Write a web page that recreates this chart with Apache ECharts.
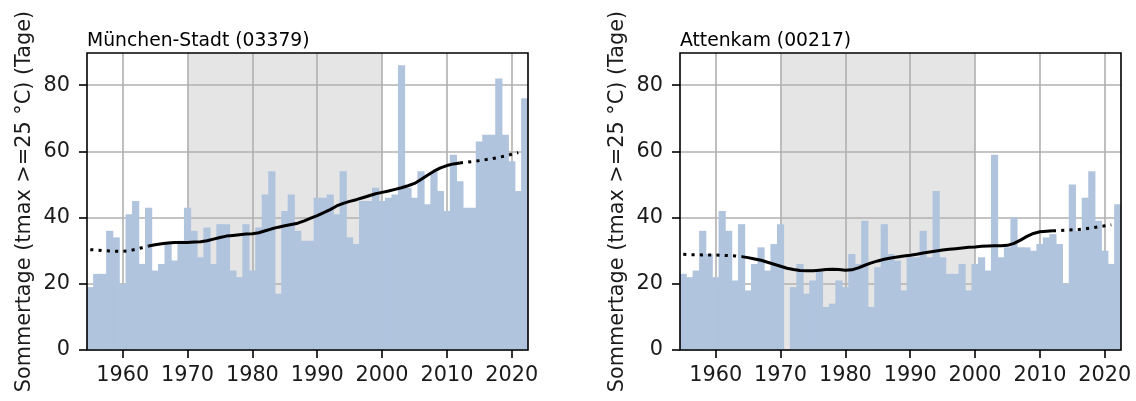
<!DOCTYPE html>
<html>
<head>
<meta charset="utf-8">
<script src="https://cdn.jsdelivr.net/npm/echarts@6.0.0/dist/echarts.min.js"></script>
<style>
    html, body { margin: 0; padding: 0; background: #fff; }
    #myChart { width: 1136px; height: 401px; }
</style>
</head>
<body>
<div id="myChart"></div>
<script>
// Jahre 1955 - 2022
var years = [1955,1956,1957,1958,1959,1960,1961,1962,1963,1964,1965,1966,1967,1968,1969,
    1970,1971,1972,1973,1974,1975,1976,1977,1978,1979,1980,1981,1982,1983,1984,1985,1986,
    1987,1988,1989,1990,1991,1992,1993,1994,1995,1996,1997,1998,1999,2000,2001,2002,2003,
    2004,2005,2006,2007,2008,2009,2010,2011,2012,2013,2014,2015,2016,2017,2018,2019,2020,
    2021,2022];

var xTicks = [1960, 1970, 1980, 1990, 2000, 2010, 2020];
var yTicks = [0, 20, 40, 60, 80];

// Sommertage München-Stadt (03379)
var muenchen = [19,23,23,36,34,20,41,45,26,43,24,26,32,27,33,
    43,36,28,37,26,38,38,24,22,38,24,37,47,54,17,42,47,
    36,33,33,46,46,47,41,54,34,32,45,45,49,45,46,47,86,
    49,46,54,44,54,48,42,59,51,43,43,63,65,65,82,65,57,
    48,76];

// Sommertage Attenkam (00217), 1971 fehlt
var attenkam = [23,22,24,36,29,22,42,36,21,38,18,26,31,24,32,
    38,null,19,26,17,21,24,13,14,21,19,29,26,39,13,25,38,
    29,27,18,28,28,36,28,48,28,23,23,26,18,26,28,24,59,
    28,31,40,31,31,30,32,34,35,32,20,50,36,46,54,39,30,
    26,44];

// geglaettete Kurve 1955 - 2021
var muenchenTrend = [30.3,30.2,30.0,29.9,29.8,29.8,30.0,30.4,30.9,31.4,31.8,32.1,32.3,32.5,32.5,
    32.5,32.6,32.7,33.0,33.5,34.0,34.4,34.6,34.8,35.0,35.1,35.4,36.0,36.6,37.1,37.5,37.9,
    38.3,39.0,39.8,40.6,41.5,42.4,43.5,44.3,44.9,45.4,46.0,46.6,47.2,47.6,48.0,48.5,49.0,
    49.6,50.3,51.5,52.8,54.0,55.0,55.7,56.2,56.5,56.7,56.9,57.2,57.5,57.8,58.2,58.6,59.1,
    59.6];

var attenkamTrend = [28.9,28.8,28.8,28.7,28.7,28.7,28.6,28.5,28.4,28.2,27.9,27.5,27.1,26.5,25.9,
    25.3,24.7,24.3,24.0,23.9,23.9,24.1,24.3,24.4,24.3,24.1,24.2,24.8,25.6,26.3,26.9,27.4,
    27.8,28.1,28.4,28.6,28.9,29.3,29.6,29.9,30.2,30.4,30.6,30.8,31.0,31.1,31.3,31.4,31.5,
    31.5,31.6,32.2,33.2,34.3,35.2,35.7,35.9,36.0,36.1,36.2,36.3,36.4,36.6,36.9,37.2,37.5,
    37.8];

// durchgezogen nur im Bereich mit vollem Fenster
var solidFrom = 1964, solidTo = 2012;
var refStart = 1970, refEnd = 2000;

var font = 'DejaVu Sans';
var grids = [], xAxes = [], yAxes = [], series = [], titles = [];

function addPanel(i, left, title, bars, trend) {
    titles.push({
        text: title, left: left, top: 32, padding: 0,
        textStyle: { fontSize: 18.75, fontWeight: 'normal', color: '#000', fontFamily: font }
    });
    grids.push({
        left: left, top: 53, width: 441, height: 297,
        show: true, z: 5, backgroundColor: 'transparent',
        borderColor: '#000', borderWidth: 1.6,
        outerBoundsMode: 'none'
    });
    xAxes.push({
        gridIndex: i, type: 'value', min: 1954.5, max: 2022.5, z: 2,
        axisLine: { show: false },
        axisTick: { show: true, length: 8, customValues: xTicks, lineStyle: { color: '#000', width: 1.6 } },
        axisLabel: {
            customValues: xTicks, margin: 15, fontSize: 20.8, color: '#1a1a1a', fontFamily: font,
            formatter: function (v) { return String(v); }
        },
        splitLine: { show: true, lineStyle: { color: '#b0b0b0', width: 1.6 } }
    });
    yAxes.push({
        gridIndex: i, type: 'value', min: 0, max: 89.7, z: 2,
        name: 'Sommertage (tmax >=25 °C) (Tage)',
        nameLocation: 'middle', nameRotate: 90, nameGap: 52,
        nameTextStyle: { fontSize: 20.8, color: '#1a1a1a', fontFamily: font },
        axisLine: { show: false },
        axisTick: { show: true, length: 8, customValues: yTicks, lineStyle: { color: '#000', width: 1.6 } },
        axisLabel: { customValues: yTicks, margin: 17, fontSize: 20.8, color: '#1a1a1a', fontFamily: font },
        splitLine: { show: true, lineStyle: { color: '#b0b0b0', width: 1.6 } }
    });

    var barData = years.map(function (y, k) { return [y, bars[k]]; });
    var solid = [], dotted = [];
    years.forEach(function (y, k) {
        if (k >= trend.length) return;
        var v = trend[k];
        if (y >= solidFrom && y <= solidTo) solid.push([y, v]);
        dotted.push([y, (y <= solidFrom || y >= solidTo) ? v : null]);
    });

    series.push({
        type: 'bar', xAxisIndex: i, yAxisIndex: i, z: 3,
        barWidth: 7.2, itemStyle: { color: '#b0c4de' },
        data: barData,
        markArea: {
            silent: true, z: 1,
            itemStyle: { color: '#e5e5e5' },
            data: [[{ xAxis: refStart }, { xAxis: refEnd }]]
        }
    });
    series.push({
        type: 'line', xAxisIndex: i, yAxisIndex: i, z: 4,
        symbol: 'none', data: solid,
        lineStyle: { color: '#000', width: 3 }
    });
    series.push({
        type: 'line', xAxisIndex: i, yAxisIndex: i, z: 4,
        symbol: 'none', data: dotted, connectNulls: false,
        lineStyle: { color: '#000', width: 3, type: [3.1, 5.2] }
    });
}

addPanel(0, 87, 'München-Stadt (03379)', muenchen, muenchenTrend);
addPanel(1, 680, 'Attenkam (00217)', attenkam, attenkamTrend);

var myChart = echarts.init(document.getElementById('myChart'));
myChart.setOption({
    animation: false,
    backgroundColor: '#fff',
    title: titles,
    grid: grids,
    xAxis: xAxes,
    yAxis: yAxes,
    series: series
});
</script>
</body>
</html>
